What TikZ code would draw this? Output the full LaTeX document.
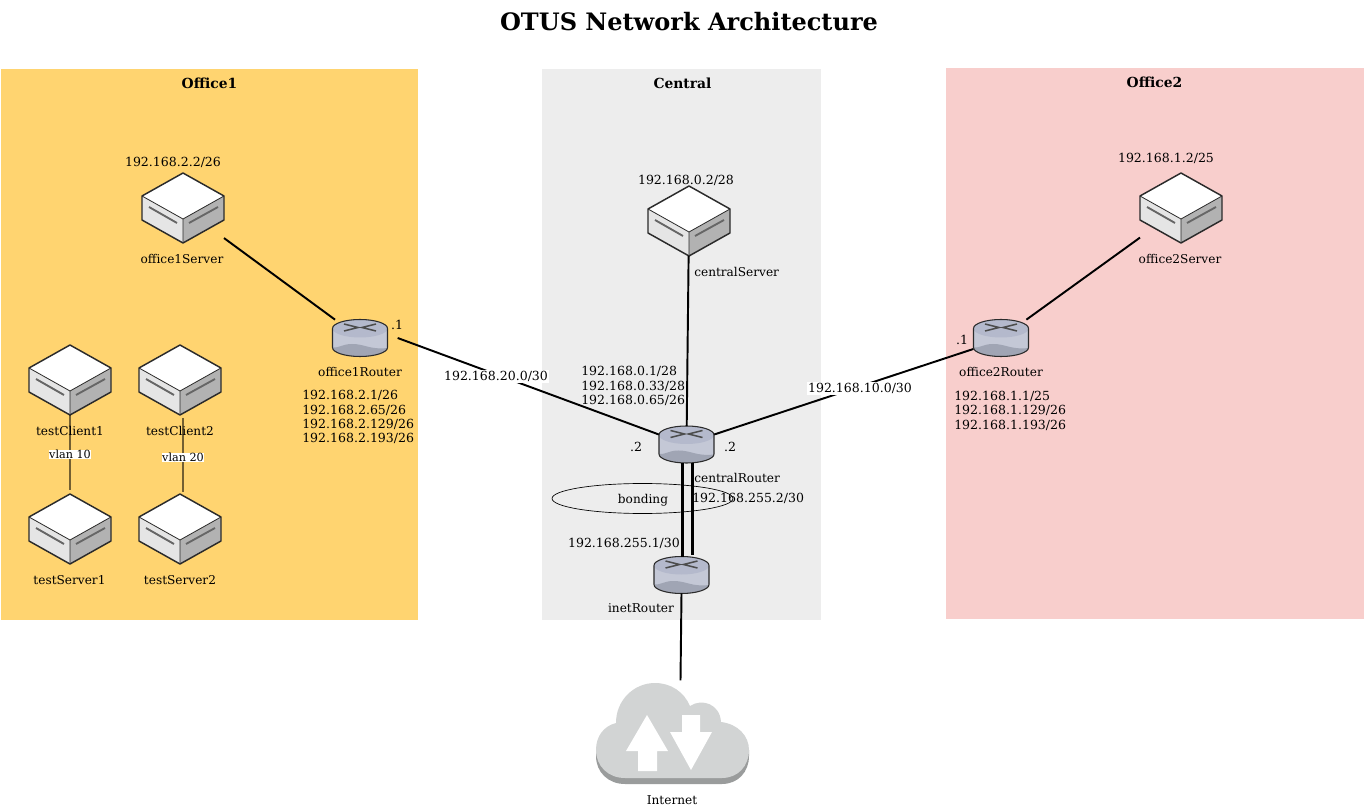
\documentclass[tikz,border=0pt]{standalone}
\usepackage{fontspec}
\setmainfont{DejaVu Serif}
\usetikzlibrary{shapes.geometric}
\definecolor{officeA}{HTML}{FFD470}
\definecolor{centralbg}{HTML}{EDEDED}
\definecolor{officeB}{HTML}{F8CECC}
\definecolor{edgeK}{HTML}{2B2B2B}
\definecolor{routerA}{HTML}{C4C8D6}
\definecolor{routerB}{HTML}{B4B9CC}
\definecolor{routerD}{HTML}{A0A5B4}
\definecolor{cloudL}{HTML}{D2D4D4}
\definecolor{cloudD}{HTML}{9A9C9C}
\tikzset{
  x=0.75pt,y=-0.75pt,
  lbl/.style={font=\fontsize{9.4pt}{10.8pt}\selectfont,inner sep=0pt,text=black,yshift=-0.9pt},
  word/.style={lbl,font=\fontsize{9.1pt}{10.8pt}\selectfont},
  lblleft/.style={lbl,anchor=west,align=left},
  wordleft/.style={word,anchor=west,align=left},
  area/.style={font=\fontsize{10.4pt}{12pt}\selectfont\bfseries,inner sep=0pt},
  box/.style={draw=none,inner sep=0pt,outer sep=0pt,minimum width=61.5pt,minimum height=52.5pt},
  rtr/.style={draw=none,inner sep=0pt,outer sep=0pt,minimum width=41.5pt,minimum height=27.5pt},
  wire/.style={line width=1.45pt,black},
  bondwire/.style={line width=1.9pt,black},
  vlanline/.style={line width=1.1pt,black,opacity=.55},
}
\newcommand{\serverat}[3]{%
  \node[box] (#1) at (#2,#3) {};
  \begin{scope}[shift={(#2,#3)}]
    \fill[white] (0,-35) -- (41,-12) -- (0,11) -- (-41,-12) -- cycle;
    \fill[black!10] (-41,-12) -- (0,11) -- (0,35) -- (-41,12) -- cycle;
    \fill[black!30] (41,-12) -- (0,11) -- (0,35) -- (41,12) -- cycle;
    \draw[edgeK,line width=1.1pt,line join=round] (0,-35) -- (41,-12) -- (41,12) -- (0,35) -- (-41,12) -- (-41,-12) -- cycle;
    \draw[edgeK,line width=.6pt] (-41,-12) -- (0,11) -- (41,-12) (0,11) -- (0,35);
    \draw[black!60,line width=1.4pt] (-34,-1) -- (-6,15) (35,-1) -- (6,15);
  \end{scope}}
\newcommand{\routerat}[3]{%
  \node[rtr] (#1) at (#2,#3) {};
  \begin{scope}[shift={(#2,#3)}]
    \fill[routerA] (-27.5,-9.5) -- (-27.5,9.5) arc[x radius=27.5,y radius=9,start angle=180,end angle=0] -- (27.5,-9.5) arc[x radius=27.5,y radius=9,start angle=0,end angle=-180] -- cycle;
    \fill[routerD] (-27.5,9.5) arc[x radius=27.5,y radius=9,start angle=180,end angle=0] -- (27.5,10) .. controls (10,12) and (5,6) .. (-8,6) .. controls (-18,6) and (-20,10) .. (-27.5,9.5) -- cycle;
    \fill[routerB] (27.5,-9.5) arc[x radius=27.5,y radius=9,start angle=0,end angle=-180] arc[x radius=27.5,y radius=9,start angle=180,end angle=0] -- cycle;
    \draw[edgeK,line width=.8pt] (-27.5,-9.5) -- (-27.5,9.5) arc[x radius=27.5,y radius=9,start angle=180,end angle=0] -- (27.5,-9.5) arc[x radius=27.5,y radius=9,start angle=0,end angle=-180] -- cycle;
    \draw[black!70,line width=1.1pt] (-16,-14) -- (-2,-10.5) -- (-16,-7) (16,-14) -- (2,-10.5) -- (16,-7);
  \end{scope}}
\begin{document}
\begin{tikzpicture}
\useasboundingbox (0,0) rectangle (1364,805);
\fill[white] (0,0) rectangle (1364,805);
\fill[officeA] (0.5,69) rectangle (418,620);
\fill[centralbg] (541.5,69) rectangle (821,620);
\fill[officeB] (945.5,68) rectangle (1364,619);

\node[font=\fontsize{18pt}{20pt}\selectfont\bfseries,inner sep=0pt] (title) at (689,22) {OTUS Network Architecture};
\node[area] (a1) at (209.5,83.5) {Office1};
\node[area] (a2) at (682.5,83.5) {Central};
\node[area] (a3) at (1154.5,82.5) {Office2};

\node[draw=black,line width=.5pt,ellipse,minimum width=135.7pt,minimum height=22.5pt,inner sep=0pt] (bond) at (642.5,498.5) {};
\node[word] (bondt) at (643,499.5) {bonding};

\serverat{s1}{183}{208}
\serverat{s2}{689}{221}
\serverat{s3}{1181}{208}
\serverat{c1}{70}{380}
\serverat{c2}{180}{380}
\serverat{t1}{70}{529}
\serverat{t2}{180}{529}
\routerat{r1}{360}{338}
\routerat{r2}{1001}{338}
\routerat{cr}{686.5}{444.5}
\routerat{ir}{681.5}{575}

\node[inner sep=0pt,outer sep=0pt,minimum width=115pt,minimum height=76pt] (cloud) at (672.5,734) {};
\fill[cloudD] (625,784) .. controls (608,784) and (596,772) .. (596,756) -- (596,750) -- (749,750) -- (749,756) .. controls (749,772) and (738,784) .. (722,784) -- cycle;
\fill[cloudL] (625,778) .. controls (608,778) and (596,766) .. (596,750) .. controls (596,736) and (604,726) .. (616,723)
  .. controls (616,700) and (634,683) .. (655,683) .. controls (671,683) and (684,692) .. (690,706)
  .. controls (702,698) and (720,704) .. (721,722) .. controls (738,724) and (749,736) .. (749,750)
  .. controls (749,766) and (738,778) .. (722,778) -- cycle;
\fill[white] (647,715) -- (668,751) -- (657,751) -- (657,771) -- (638,771) -- (638,751) -- (626,751) -- cycle;
\fill[white] (682,715) -- (700,715) -- (700,732) -- (712,732) -- (691,770) -- (670,732) -- (682,732) -- cycle;

\draw[wire] (s1) -- (r1);
\draw[wire] (s3) -- (r2);
\draw[wire] (s2) -- (cr);
\draw[wire] ([shift={(10,0)}]r1.east) -- ([shift={(0,-10)}]cr.west);
\draw[wire] ([shift={(0,11)}]r2.west) -- ([shift={(0,-10)}]cr.east);
\draw[bondwire] ([shift={(-4,0)}]cr.south) -- ([shift={(1,0)}]ir.north);
\draw[bondwire] ([shift={(6,0)}]cr.south) -- ([shift={(11,-2)}]ir.north);
\draw[wire] (ir.south) -- ([shift={(8,-3)}]cloud.north);
\draw[vlanline] (c1.south) -- ([shift={(0,-4)}]t1.north);
\draw[vlanline] ([shift={(3,3)}]c2.south) -- ([shift={(3,-2)}]t2.north);

\node[lbl] (l1) at (173,161) {192.168.2.2/26};
\node[word] (l2) at (182,258) {office1Server};
\node[word] (l3) at (70,430) {testClient1};
\node[word] (l4) at (180,430) {testClient2};
\node[word] (l5) at (69.5,579) {testServer1};
\node[word] (l6) at (180,579) {testServer2};
\node[lbl,fill=white,font=\fontsize{8.4pt}{10pt}\selectfont] (l7) at (70,453) {vlan 10};
\node[lbl,fill=white,font=\fontsize{8.4pt}{10pt}\selectfont] (l8) at (183,456) {vlan 20};
\node[lbl] (l9) at (397,324) {.1};
\node[word] (l10) at (360,371) {office1Router};
\node[lblleft] (l11) at (302,416) {192.168.2.1/26\\192.168.2.65/26\\192.168.2.129/26\\192.168.2.193/26};
\node[lbl,fill=white,inner sep=1pt] (l12) at (496,375) {192.168.20.0/30};
\node[lblleft] (l13) at (581,385) {192.168.0.1/28\\192.168.0.33/28\\192.168.0.65/26};
\node[lbl] (l14) at (686,179) {192.168.0.2/28};
\node[wordleft] (l15) at (694,271) {centralServer};
\node[lbl] (l16) at (636,446) {.2};
\node[lbl] (l17) at (730,446) {.2};
\node[wordleft] (l18) at (694,477) {centralRouter};
\node[lblleft] (l19) at (692,497) {192.168.255.2/30};
\node[lbl] (l20) at (624,542) {192.168.255.1/30};
\node[word] (l21) at (641,607) {inetRouter};
\node[word] (l22) at (672,799) {Internet};
\node[lbl,fill=white,inner sep=1pt] (l23) at (860,387) {192.168.10.0/30};
\node[lbl] (l24) at (962,339) {.1};
\node[word] (l25) at (1001,371) {office2Router};
\node[lbl] (l26) at (1166,157) {192.168.1.2/25};
\node[word] (l27) at (1180,258) {office2Server};
\node[lblleft] (l28) at (954,409.5) {192.168.1.1/25\\192.168.1.129/26\\192.168.1.193/26};
\end{tikzpicture}
\end{document}
